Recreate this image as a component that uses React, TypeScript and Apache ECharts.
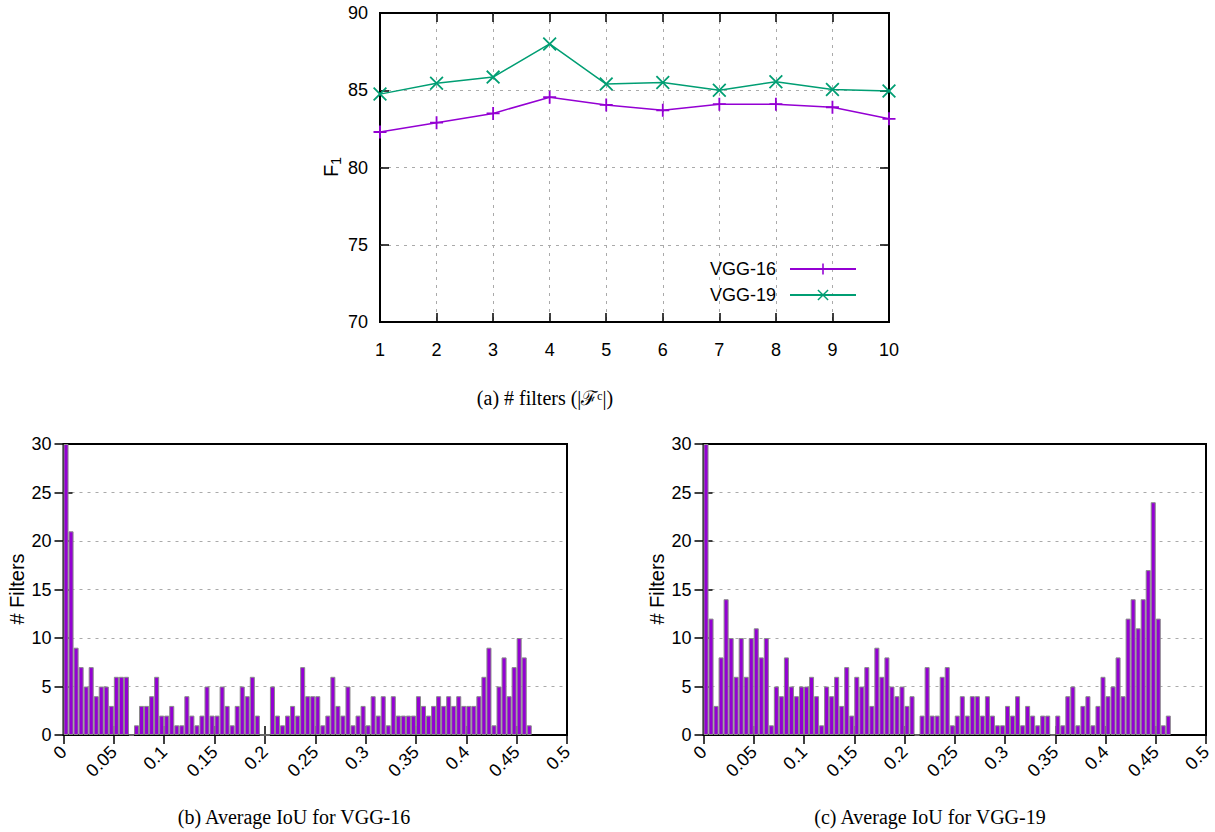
import React, { useEffect, useRef } from "react";
import * as echarts from "echarts";

// ---- Data ----
const filterCounts = [1, 2, 3, 4, 5, 6, 7, 8, 9, 10];
const vgg16F1 = [82.3, 82.9, 83.5, 84.55, 84.05, 83.7, 84.1, 84.1, 83.9, 83.15];
const vgg19F1 = [84.75, 85.45, 85.85, 88.0, 85.4, 85.5, 85.0, 85.55, 85.05, 84.95];

// histogram bins of width 0.005 covering [0, 0.5)
const iouBins = Array.from({ length: 100 }, (_, i) => (i * 0.005).toFixed(3));

const vgg16Hist = [
  30, 21, 9, 7, 5, 7, 4, 5, 5, 3,
  6, 6, 6, 0, 1, 3, 3, 4, 6, 2,
  2, 3, 1, 1, 4, 2, 1, 2, 5, 2,
  2, 5, 3, 1, 3, 5, 4, 6, 2, 0,
  0, 5, 2, 1, 2, 3, 2, 7, 4, 4,
  4, 1, 2, 6, 3, 2, 5, 1, 2, 3,
  1, 4, 2, 4, 1, 4, 2, 2, 2, 2,
  4, 3, 2, 3, 4, 3, 4, 3, 4, 3,
  3, 3, 4, 6, 9, 1, 5, 8, 4, 7,
  10, 8, 1,
];

const vgg19Hist = [
  30, 12, 3, 8, 14, 10, 6, 10, 6, 10,
  11, 8, 10, 1, 5, 4, 8, 5, 4, 5,
  5, 6, 4, 1, 5, 4, 6, 3, 7, 2,
  6, 5, 7, 3, 9, 6, 8, 5, 4, 5,
  3, 4, 0, 2, 7, 2, 2, 6, 7, 1,
  2, 4, 2, 4, 4, 2, 4, 2, 1, 1,
  3, 2, 4, 1, 3, 2, 1, 2, 2, 0,
  2, 1, 4, 5, 1, 3, 4, 1, 3, 6,
  4, 5, 8, 4, 12, 14, 11, 14, 17, 24,
  12, 1, 2,
];

const PURPLE = "#9400D3";
const GREEN = "#009E73";
const SANS = "Liberation Sans";
const SERIF = "Liberation Serif";

const plusPath =
  "path://M4.3,0h1.4v4.3h4.3v1.4h-4.3v4.3h-1.4v-4.3h-4.3v-1.4h4.3z";
const crossPath =
  "path://M0,0.9L0.9,0L5,4.1L9.1,0L10,0.9L5.9,5L10,9.1L9.1,10L5,5.9L0.9,10L0,9.1L4.1,5Z";

const tickStyle = { inside: true, length: 9, lineStyle: { color: "#000", width: 1.5 } };
const dashed = {
  show: true,
  showMinLine: false,
  showMaxLine: false,
  lineStyle: { color: "#aaaaaa", type: [3, 5] as any, width: 1 },
};
const labelStyle = { color: "#000", fontSize: 18, fontFamily: SANS };

function histAxes(grid: number) {
  const x = [
    {
      gridIndex: grid,
      type: "value",
      min: 0,
      max: 0.5,
      interval: 0.05,
      position: "bottom",
      axisLine: { show: false },
      axisTick: tickStyle,
      splitLine: { show: false },
      axisLabel: {
        ...labelStyle,
        rotate: 45,
        margin: 14,
        formatter: (v: number) => String(+v.toFixed(2)),
      },
    },
    {
      gridIndex: grid,
      type: "value",
      min: 0,
      max: 0.5,
      interval: 0.05,
      position: "top",
      axisLine: { show: false },
      axisTick: tickStyle,
      splitLine: { show: false },
      axisLabel: { show: false },
    },
    {
      gridIndex: grid,
      type: "category",
      data: iouBins,
      show: false,
      boundaryGap: true,
    },
  ];
  const y = [
    {
      gridIndex: grid,
      type: "value",
      min: 0,
      max: 30,
      interval: 5,
      position: "left",
      axisLine: { show: false },
      axisTick: tickStyle,
      splitLine: dashed,
      axisLabel: { ...labelStyle, margin: 12 },
    },
    {
      gridIndex: grid,
      type: "value",
      min: 0,
      max: 30,
      interval: 5,
      position: "right",
      axisLine: { show: false },
      axisTick: tickStyle,
      splitLine: { show: false },
      axisLabel: { show: false },
    },
  ];
  return { x, y };
}

function rotatedTitle(text: string, x: number, y: number) {
  return {
    type: "text",
    x,
    y,
    rotation: Math.PI / 2,
    style: {
      text,
      fontSize: 20,
      fontFamily: SANS,
      fill: "#000",
      align: "center",
      verticalAlign: "middle",
    },
  };
}

function caption(text: string, x: number, y: number) {
  return {
    type: "text",
    x,
    y,
    style: {
      text,
      fontSize: 20,
      fontFamily: SERIF,
      fill: "#000",
      align: "center",
      verticalAlign: "middle",
    },
  };
}

export default function App() {
  const ref = useRef<HTMLDivElement>(null);

  useEffect(() => {
    document.body.style.margin = "0";
    if (!ref.current) return;
    const chart = echarts.init(ref.current, undefined, { renderer: "svg" });

    const hb = histAxes(1);
    const hc = histAxes(2);

    const gridBase = { show: true, borderColor: "#000", borderWidth: 2, backgroundColor: "transparent" };

    const option: any = {
      animation: false,
      backgroundColor: "#fff",
      grid: [
        { ...gridBase, left: 380, top: 13, width: 509, height: 309 },
        { ...gridBase, left: 63.5, top: 444, width: 503.5, height: 291 },
        { ...gridBase, left: 703.5, top: 444, width: 502.5, height: 291 },
      ],
      xAxis: [
        {
          gridIndex: 0,
          type: "value",
          min: 1,
          max: 10,
          interval: 1,
          position: "bottom",
          axisLine: { show: false },
          axisTick: tickStyle,
          splitLine: dashed,
          axisLabel: { ...labelStyle, margin: 19 },
        },
        {
          gridIndex: 0,
          type: "value",
          min: 1,
          max: 10,
          interval: 1,
          position: "top",
          axisLine: { show: false },
          axisTick: tickStyle,
          splitLine: { show: false },
          axisLabel: { show: false },
        },
        ...hb.x,
        ...hc.x,
      ],
      yAxis: [
        {
          gridIndex: 0,
          type: "value",
          min: 70,
          max: 90,
          interval: 5,
          position: "left",
          axisLine: { show: false },
          axisTick: tickStyle,
          splitLine: dashed,
          axisLabel: { ...labelStyle, margin: 12 },
        },
        {
          gridIndex: 0,
          type: "value",
          min: 70,
          max: 90,
          interval: 5,
          position: "right",
          axisLine: { show: false },
          axisTick: tickStyle,
          splitLine: { show: false },
          axisLabel: { show: false },
        },
        ...hb.y,
        ...hc.y,
      ],
      legend: {
        data: ["VGG-16", "VGG-19"],
        orient: "vertical",
        right: 353,
        top: 255,
        align: "right",
        itemWidth: 66,
        itemHeight: 14,
        itemGap: 8,
        textStyle: { ...labelStyle, padding: [0, 9, 0, 0] },
      },
      series: [
        {
          name: "VGG-16",
          type: "line",
          xAxisIndex: 0,
          yAxisIndex: 0,
          data: filterCounts.map((k, i) => [k, vgg16F1[i]]),
          symbol: plusPath,
          symbolSize: 13,
          color: PURPLE,
          itemStyle: { color: PURPLE },
          lineStyle: { color: PURPLE, width: 1.5 },
        },
        {
          name: "VGG-19",
          type: "line",
          xAxisIndex: 0,
          yAxisIndex: 0,
          data: filterCounts.map((k, i) => [k, vgg19F1[i]]),
          symbol: crossPath,
          symbolSize: 14,
          color: GREEN,
          itemStyle: { color: GREEN },
          lineStyle: { color: GREEN, width: 1.5 },
        },
        {
          name: "hist16",
          type: "bar",
          xAxisIndex: 4,
          yAxisIndex: 2,
          data: vgg16Hist,
          barCategoryGap: "0%",
          itemStyle: { color: PURPLE, borderColor: "#8a8a8a", borderWidth: 1 },
        },
        {
          name: "hist19",
          type: "bar",
          xAxisIndex: 7,
          yAxisIndex: 4,
          data: vgg19Hist,
          barCategoryGap: "0%",
          itemStyle: { color: PURPLE, borderColor: "#8a8a8a", borderWidth: 1 },
        },
      ],
      graphic: [
        caption("(a) # filters (|ℱᶜ|)", 545, 398),
        caption("(b) Average IoU for VGG-16", 294, 817),
        caption("(c) Average IoU for VGG-19", 930, 817),
        {
          type: "text",
          x: 331,
          y: 167,
          rotation: Math.PI / 2,
          style: {
            text: "{a|F}{b|1}",
            fill: "#000",
            align: "center",
            verticalAlign: "middle",
            rich: {
              a: { fontSize: 20, fontFamily: SANS, fill: "#000", lineHeight: 24, verticalAlign: "middle" },
              b: { fontSize: 14, fontFamily: SANS, fill: "#000", lineHeight: 24, verticalAlign: "bottom", padding: [8, 0, 0, 0] },
            },
          },
        },
        rotatedTitle("# Filters", 17, 589),
        rotatedTitle("# Filters", 657, 589),
      ],
    };

    chart.setOption(option);
    return () => chart.dispose();
  }, []);

  return <div ref={ref} style={{ width: 1215, height: 832 }} />;
}
